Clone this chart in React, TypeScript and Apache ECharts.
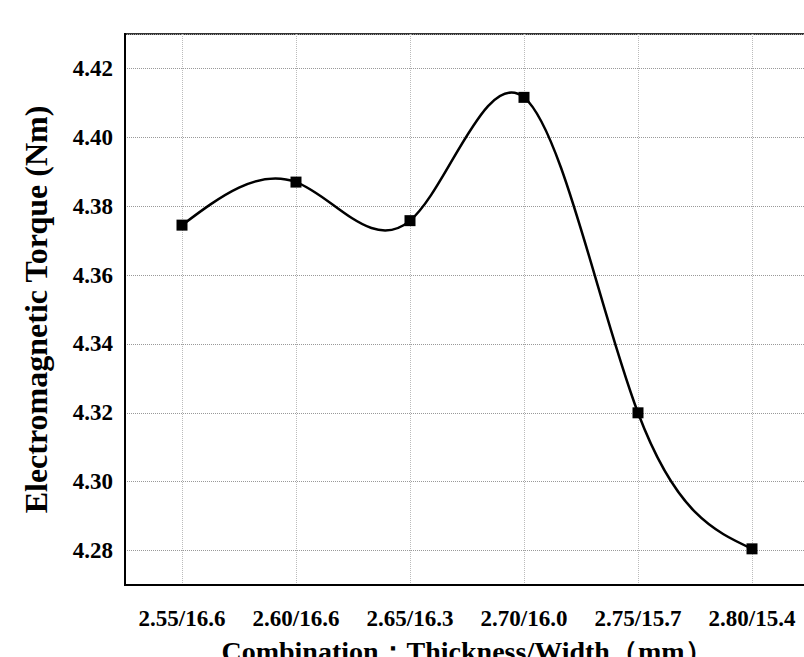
import React, { useEffect, useRef } from "react";
import * as echarts from "echarts";

const categories = ["2.55/16.6", "2.60/16.6", "2.65/16.3", "2.70/16.0", "2.75/15.7", "2.80/15.4"];
const torque = [4.3745, 4.387, 4.3758, 4.4116, 4.32, 4.2805];
const yMin = 4.27;
const yMax = 4.43;

const FONT = '"Liberation Serif", "Times New Roman", serif';

// Natural cubic spline through pixel points, drawn as bezier segments
function splineSegments(pts: number[][]) {
  const n = pts.length;
  const M = new Array(n).fill(0);
  if (n > 2) {
    const h: number[] = [];
    for (let i = 0; i < n - 1; i++) h.push(pts[i + 1][0] - pts[i][0]);
    const a: number[] = [], b: number[] = [], c: number[] = [], d: number[] = [];
    for (let i = 1; i < n - 1; i++) {
      a.push(h[i - 1]);
      b.push(2 * (h[i - 1] + h[i]));
      c.push(h[i]);
      d.push(6 * ((pts[i + 1][1] - pts[i][1]) / h[i] - (pts[i][1] - pts[i - 1][1]) / h[i - 1]));
    }
    const m = b.length;
    for (let i = 1; i < m; i++) {
      const w = a[i] / b[i - 1];
      b[i] -= w * c[i - 1];
      d[i] -= w * d[i - 1];
    }
    const x = new Array(m).fill(0);
    x[m - 1] = d[m - 1] / b[m - 1];
    for (let i = m - 2; i >= 0; i--) x[i] = (d[i] - c[i] * x[i + 1]) / b[i];
    for (let i = 0; i < m; i++) M[i + 1] = x[i];
  }
  const segs: any[] = [];
  for (let i = 0; i < n - 1; i++) {
    const [x0, y0] = pts[i];
    const [x1, y1] = pts[i + 1];
    const h = x1 - x0;
    const s0 = (y1 - y0) / h - (h * (2 * M[i] + M[i + 1])) / 6;
    const s1 = (y1 - y0) / h + (h * (M[i] + 2 * M[i + 1])) / 6;
    segs.push({
      x1: x0, y1: y0,
      cpx1: x0 + h / 3, cpy1: y0 + (s0 * h) / 3,
      cpx2: x1 - h / 3, cpy2: y1 - (s1 * h) / 3,
      x2: x1, y2: y1,
    });
  }
  return segs;
}

export default function App() {
  const ref = useRef<HTMLDivElement>(null);
  useEffect(() => {
    if (!ref.current) return;
    const chart = echarts.init(ref.current, null, { renderer: "svg" });
    chart.setOption({
      animation: false,
      backgroundColor: "#ffffff",
      grid: {
        left: 125,
        top: 34,
        width: 684,
        height: 551,
        containLabel: false,
        outerBoundsMode: "none",
        show: true,
        borderColor: "#333",
        borderWidth: 2,
        backgroundColor: "transparent",
      },
      xAxis: {
        type: "category",
        data: categories,
        boundaryGap: true,
        axisLine: { lineStyle: { color: "#000", width: 2 } },
        axisTick: { inside: true, alignWithLabel: true, length: 10, lineStyle: { color: "#000", width: 2 } },
        axisLabel: {
          color: "#000",
          fontFamily: FONT,
          fontWeight: "bold",
          fontSize: 23,
          margin: 22,
          interval: 0,
        },
        splitLine: {
          show: true,
          alignWithLabel: true,
          lineStyle: { color: "#bbb", type: "dotted", width: 1 },
        },
        name: "Combination：Thickness/Width（mm）",
        nameLocation: "middle",
        nameGap: 52,
        nameTextStyle: { color: "#000", fontFamily: FONT, fontWeight: "bold", fontSize: 28 },
      },
      yAxis: [
        {
          type: "value",
          min: yMin,
          max: yMax,
          interval: 0.01,
          axisLine: { show: true, lineStyle: { color: "#000", width: 2 } },
          axisTick: { inside: true, length: 6, lineStyle: { color: "#000", width: 2 } },
          axisLabel: { show: false },
          splitLine: { show: false },
        },
        {
          type: "value",
          min: yMin,
          max: yMax,
          splitNumber: 8,
          position: "left",
          axisLine: { show: true, lineStyle: { color: "#000", width: 2 } },
          axisTick: { inside: true, length: 10, lineStyle: { color: "#000", width: 2 } },
          axisLabel: {
            color: "#000",
            fontFamily: FONT,
            fontWeight: "bold",
            fontSize: 23,
            margin: 12,
            showMinLabel: false,
            showMaxLabel: false,
            formatter: (v: number) => v.toFixed(2),
          },
          splitLine: { show: true, lineStyle: { color: "#999", type: "dotted", width: 1 } },
          name: "Electromagnetic Torque (Nm)",
          nameLocation: "middle",
          nameGap: 73,
          nameTextStyle: { color: "#000", fontFamily: FONT, fontWeight: "bold", fontSize: 32 },
        },
      ],
      series: [
        {
          type: "custom",
          yAxisIndex: 1,
          data: torque,
          z: 2,
          renderItem: (params: any, api: any) => {
            if (params.dataIndex !== 0) return null;
            const pts = torque.map((v, i) => api.coord([i, v]));
            const segs = splineSegments(pts);
            return {
              type: "group",
              children: segs.map((s) => ({
                type: "bezierCurve",
                shape: s,
                style: { stroke: "#000", lineWidth: 2.5, fill: "none" },
              })),
            };
          },
        },
        {
          type: "line",
          yAxisIndex: 1,
          data: torque,
          z: 3,
          symbol: "rect",
          symbolSize: 11,
          itemStyle: { color: "#000" },
          lineStyle: { width: 0, opacity: 0 },
        },
      ],
    });
    return () => chart.dispose();
  }, []);
  return (
    <div style={{ position: "fixed", left: 0, top: 0, width: 804, height: 657, overflow: "hidden", background: "#fff" }}>
      <div ref={ref} style={{ width: 840, height: 657 }} />
    </div>
  );
}
